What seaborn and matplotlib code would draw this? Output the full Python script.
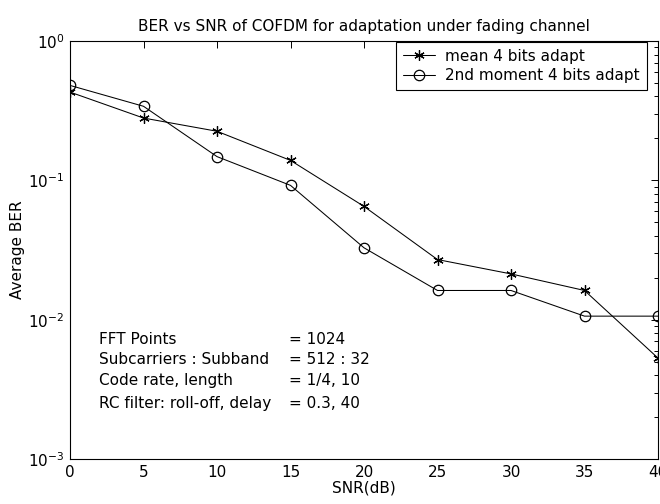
import matplotlib
matplotlib.use("Agg")
import matplotlib.pyplot as plt
import seaborn as sns
import numpy as np
import pandas as pd
from matplotlib.ticker import LogLocator, NullFormatter, MultipleLocator

snr_db = [0, 5, 10, 15, 20, 25, 30, 35, 40]
ber_mean = [0.43, 0.28, 0.225, 0.139, 0.065, 0.027, 0.0213, 0.0162, 0.0053]
ber_second = [0.48, 0.34, 0.148, 0.092, 0.0328, 0.0162, 0.0162, 0.0106, 0.0106]
series_names = ["mean 4 bits adapt", "2nd moment 4 bits adapt"]
title_text = "BER vs SNR of COFDM for adaptation under fading channel"
xlabel_text = "SNR(dB)"
ylabel_text = "Average BER"
info_labels = ["FFT Points", "Subcarriers : Subband", "Code rate, length", "RC filter: roll-off, delay"]
info_values = ["= 1024", "= 512 : 32", "= 1/4, 10", "= 0.3, 40"]

FS = 11

sns.set_theme(style="white")
plt.rcParams['font.family'] = ['DejaVu Sans']
plt.rcParams['mathtext.fontset'] = 'dejavusans'
plt.rcParams['text.color'] = 'black'
plt.rcParams['axes.labelcolor'] = 'black'
plt.rcParams['axes.titlecolor'] = 'black'
plt.rcParams['xtick.color'] = 'black'
plt.rcParams['ytick.color'] = 'black'

df = pd.DataFrame({
    "snr": snr_db * 2,
    "ber": ber_mean + ber_second,
    "series": [series_names[0]] * len(snr_db) + [series_names[1]] * len(snr_db),
})

fig = plt.figure(figsize=(6.6, 5.04), dpi=100)
ax = fig.add_axes([70/660, 1 - 459/504, 588/660, 418/504])

sns.lineplot(data=df[df.series == series_names[0]], x="snr", y="ber", ax=ax,
             color="black", lw=0.75, marker=(6, 2, 0), markersize=7.5,
             markeredgecolor="black", markeredgewidth=0.9, label=series_names[0])
sns.lineplot(data=df[df.series == series_names[1]], x="snr", y="ber", ax=ax,
             color="black", lw=0.75, marker="o", markersize=7.5,
             markerfacecolor="none", markeredgecolor="black", markeredgewidth=0.9,
             label=series_names[1])

ax.set_yscale("log")
ax.set_xlim(0, 40)
ax.set_ylim(1e-3, 1)
ax.xaxis.set_major_locator(MultipleLocator(5))
ax.yaxis.set_major_locator(LogLocator(base=10, numticks=10))
ax.yaxis.set_minor_locator(LogLocator(base=10, subs=np.arange(2, 10), numticks=20))
ax.yaxis.set_minor_formatter(NullFormatter())
ax.tick_params(axis="both", which="both", direction="in", top=True, right=True,
               labelsize=FS, colors="black")
ax.tick_params(which="major", length=5, width=0.7)
ax.tick_params(which="minor", length=3, width=0.7)
ax.tick_params(axis="x", pad=4)
ax.tick_params(axis="y", pad=4)
for s in ax.spines.values():
    s.set_color("black")
    s.set_linewidth(0.8)

ax.set_title(title_text, fontsize=FS, pad=7, color="black")
ax.set_xlabel(xlabel_text, fontsize=FS, labelpad=1, color="black")
ax.set_ylabel(ylabel_text, fontsize=FS, labelpad=2, color="black")

leg = ax.legend(loc="upper right", bbox_to_anchor=(0.981, 0.998), fontsize=FS,
                frameon=True, fancybox=False, edgecolor="black", framealpha=1,
                borderaxespad=0, handlelength=2.1, handletextpad=0.7,
                borderpad=0.45, labelspacing=0.3)
leg.get_frame().set_linewidth(0.8)
for t in leg.get_texts():
    t.set_color("black")

ys = [0.287, 0.237, 0.187, 0.132]
for lab, val, y in zip(info_labels, info_values, ys):
    ax.text(0.049, y, lab, transform=ax.transAxes, fontsize=FS, va="center", color="black")
    ax.text(0.372, y, val, transform=ax.transAxes, fontsize=FS, va="center", color="black")

fig.savefig("out.png", dpi=100)
